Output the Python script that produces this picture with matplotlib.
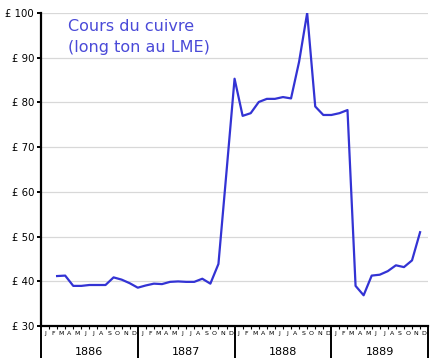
import matplotlib

matplotlib.use("Agg")
import matplotlib.pyplot as plt
import matplotlib.transforms as mtransforms

# monthly copper price, March 1886 .. December 1889 (month index from Jan 1886)
month_index = list(range(2, 48))
price = [
    41.2, 41.3, 39.0, 39.0, 39.2, 39.2, 39.2, 40.9, 40.4, 39.6,
    38.6, 39.1, 39.5, 39.4, 39.9, 40.0, 39.9, 39.9, 40.6, 39.5,
    43.9, 64.5, 85.3, 77.0, 77.6, 80.1, 80.8, 80.8, 81.2, 80.9,
    89.1, 100.0, 79.1, 77.2, 77.2, 77.6, 78.3, 39.0, 36.9, 41.3,
    41.5, 42.3, 43.6, 43.2, 44.7, 51.0,
]
years = ["1886", "1887", "1888", "1889"]
month_letters = ["J", "F", "M", "A", "M", "J", "J", "A", "S", "O", "N", "D"]
y_ticks = [30, 40, 50, 60, 70, 80, 90, 100]
y_labels = [f"£ {v}" for v in y_ticks]
title_text = "Cours du cuivre\n(long ton au LME)"

fig = plt.figure(figsize=(4.36, 3.6), dpi=100)
ax = fig.add_axes([0.094, 0.094, 0.888, 0.870])

ax.plot(month_index, price, color="#3333d4", linewidth=1.6, zorder=3)

ax.set_xlim(0, 48)
ax.set_ylim(30, 100)
ax.set_yticks(y_ticks)
ax.set_yticklabels(y_labels, fontsize=7.3)
ax.yaxis.grid(True, color="#d8d8d8", linewidth=0.9)
ax.set_axisbelow(True)

for side in ("top", "right"):
    ax.spines[side].set_visible(False)
for side in ("left", "bottom"):
    ax.spines[side].set_linewidth(1.6)
ax.tick_params(axis="y", length=3, width=1.4, pad=2)

# year ticks long, month ticks short
ax.set_xticks([0, 12, 24, 36, 48])
ax.set_xticklabels([])
ax.set_xticks(range(49), minor=True)
ax.tick_params(axis="x", which="major", length=23, width=1.4)
ax.tick_params(axis="x", which="minor", length=2.5, width=0.8)

trans = mtransforms.blended_transform_factory(ax.transData, ax.transAxes)
for y, year in enumerate(years):
    for m, letter in enumerate(month_letters):
        ax.text(y * 12 + m + 0.5, -0.024, letter, transform=trans, fontsize=4.5,
                ha="center", va="center")
    ax.text(y * 12 + 6, -0.082, year, transform=trans, fontsize=8,
            ha="center", va="center")

ax.text(0.07, 0.98, title_text, transform=ax.transAxes, fontsize=11.5,
        color="#4a4ad8", ha="left", va="top", linespacing=1.5)

fig.savefig("out.png", dpi=100)
